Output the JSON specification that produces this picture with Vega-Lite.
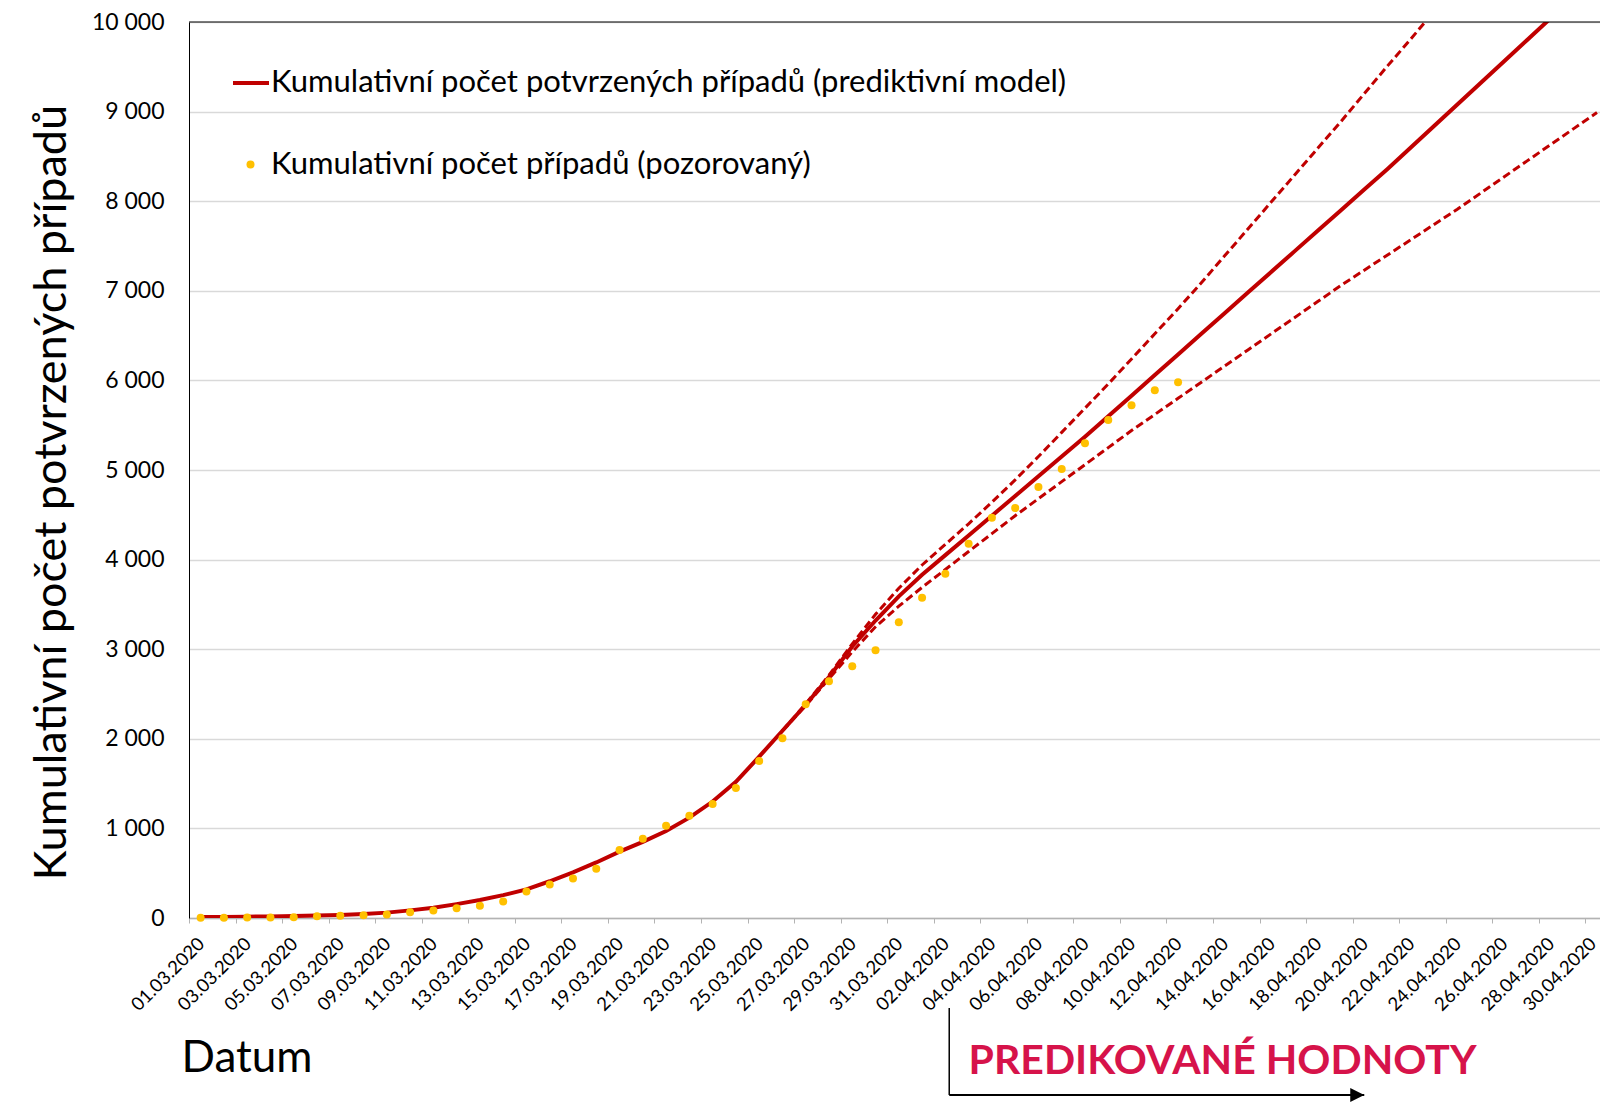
{
  "$schema": "https://vega.github.io/schema/vega-lite/v6.json",
  "width": 1411,
  "height": 896,
  "autosize": {"type": "none"},
  "padding": {"left": 189, "top": 22, "right": 0, "bottom": 184},
  "background": "white",
  "config": {"view": {"stroke": null}, "font": "Lato"},
  "datasets": {
    "main": [
      {"date": "2020-03-01", "model": 10, "observed": 3},
      {"date": "2020-03-02", "model": 12, "observed": 3},
      {"date": "2020-03-03", "model": 15, "observed": 5},
      {"date": "2020-03-04", "model": 18, "observed": 5},
      {"date": "2020-03-05", "model": 22, "observed": 8},
      {"date": "2020-03-06", "model": 27, "observed": 19},
      {"date": "2020-03-07", "model": 34, "observed": 26},
      {"date": "2020-03-08", "model": 45, "observed": 32},
      {"date": "2020-03-09", "model": 60, "observed": 38},
      {"date": "2020-03-10", "model": 85, "observed": 63},
      {"date": "2020-03-11", "model": 115, "observed": 85},
      {"date": "2020-03-12", "model": 155, "observed": 108},
      {"date": "2020-03-13", "model": 200, "observed": 137},
      {"date": "2020-03-14", "model": 255, "observed": 185},
      {"date": "2020-03-15", "model": 320, "observed": 297},
      {"date": "2020-03-16", "model": 410, "observed": 375},
      {"date": "2020-03-17", "model": 510, "observed": 440},
      {"date": "2020-03-18", "model": 620, "observed": 550},
      {"date": "2020-03-19", "model": 740, "observed": 760},
      {"date": "2020-03-20", "model": 850, "observed": 885},
      {"date": "2020-03-21", "model": 970, "observed": 1030},
      {"date": "2020-03-22", "model": 1120, "observed": 1142},
      {"date": "2020-03-23", "model": 1300, "observed": 1272},
      {"date": "2020-03-24", "model": 1520, "observed": 1451},
      {"date": "2020-03-25", "model": 1800, "observed": 1752},
      {"date": "2020-03-26", "model": 2090, "upper": 2090, "lower": 2090, "observed": 2005},
      {"date": "2020-03-27", "model": 2380, "upper": 2390, "lower": 2370, "observed": 2385},
      {"date": "2020-03-28", "model": 2690, "upper": 2710, "lower": 2670, "observed": 2642},
      {"date": "2020-03-29", "model": 3030, "upper": 3060, "lower": 2970, "observed": 2809},
      {"date": "2020-03-30", "model": 3320, "upper": 3390, "lower": 3250, "observed": 2988},
      {"date": "2020-03-31", "model": 3590, "upper": 3680, "lower": 3480, "observed": 3300},
      {"date": "2020-04-01", "model": 3830, "upper": 3940, "lower": 3690, "observed": 3575},
      {"date": "2020-04-02", "model": 4050, "upper": 4170, "lower": 3890, "observed": 3843},
      {"date": "2020-04-03", "model": 4270, "upper": 4400, "lower": 4090, "observed": 4177},
      {"date": "2020-04-04", "model": 4490, "upper": 4640, "lower": 4290, "observed": 4468},
      {"date": "2020-04-05", "model": 4710, "upper": 4890, "lower": 4490, "observed": 4576},
      {"date": "2020-04-06", "model": 4930, "upper": 5150, "lower": 4680, "observed": 4810},
      {"date": "2020-04-07", "model": 5150, "upper": 5420, "lower": 4870, "observed": 5011},
      {"date": "2020-04-08", "model": 5370, "upper": 5690, "lower": 5060, "observed": 5298},
      {"date": "2020-04-09", "model": 5600, "upper": 5960, "lower": 5250, "observed": 5558},
      {"date": "2020-04-10", "model": 5830, "upper": 6240, "lower": 5440, "observed": 5722},
      {"date": "2020-04-11", "model": 6060, "upper": 6520, "lower": 5620, "observed": 5890},
      {"date": "2020-04-12", "model": 6290, "upper": 6800, "lower": 5800, "observed": 5979},
      {"date": "2020-04-13", "model": 6520, "upper": 7090, "lower": 5980},
      {"date": "2020-04-14", "model": 6750, "upper": 7390, "lower": 6160},
      {"date": "2020-04-15", "model": 6980, "upper": 7690, "lower": 6340},
      {"date": "2020-04-16", "model": 7210, "upper": 7990, "lower": 6520},
      {"date": "2020-04-17", "model": 7440, "upper": 8290, "lower": 6700},
      {"date": "2020-04-18", "model": 7670, "upper": 8590, "lower": 6880},
      {"date": "2020-04-19", "model": 7900, "upper": 8890, "lower": 7060},
      {"date": "2020-04-20", "model": 8130, "upper": 9200, "lower": 7230},
      {"date": "2020-04-21", "model": 8360, "upper": 9510, "lower": 7400},
      {"date": "2020-04-22", "model": 8600, "upper": 9810, "lower": 7570},
      {"date": "2020-04-23", "model": 8840, "upper": 10120, "lower": 7740},
      {"date": "2020-04-24", "model": 9080, "upper": 10440, "lower": 7910},
      {"date": "2020-04-25", "model": 9320, "upper": 10770, "lower": 8090},
      {"date": "2020-04-26", "model": 9560, "upper": 11100, "lower": 8270},
      {"date": "2020-04-27", "model": 9800, "upper": 11440, "lower": 8450},
      {"date": "2020-04-28", "model": 10040, "upper": 11790, "lower": 8630},
      {"date": "2020-04-29", "model": 10270, "upper": 12140, "lower": 8810},
      {"date": "2020-04-30", "model": 10500, "upper": 12500, "lower": 8990}
    ]
  },
  "encoding": {
    "x": {
      "field": "date", "type": "temporal",
      "scale": {"type": "utc", "domain": [{"year": 2020, "month": 2, "date": 29, "hours": 12, "utc": true}, {"year": 2020, "month": 4, "date": 30, "hours": 3, "minutes": 7, "utc": true}]},
      "axis": {
        "title": "Datum", "titleFontSize": 44, "titleFontWeight": "normal", "titleColor": "black",
        "titleAnchor": "start", "titleAlign": "left", "titleBaseline": "middle", "titleX": -8, "titleY": 140,
        "values": [
          {"year": 2020, "month": 3, "date": 1, "utc": true}, {"year": 2020, "month": 3, "date": 3, "utc": true},
          {"year": 2020, "month": 3, "date": 5, "utc": true}, {"year": 2020, "month": 3, "date": 7, "utc": true},
          {"year": 2020, "month": 3, "date": 9, "utc": true}, {"year": 2020, "month": 3, "date": 11, "utc": true},
          {"year": 2020, "month": 3, "date": 13, "utc": true}, {"year": 2020, "month": 3, "date": 15, "utc": true},
          {"year": 2020, "month": 3, "date": 17, "utc": true}, {"year": 2020, "month": 3, "date": 19, "utc": true},
          {"year": 2020, "month": 3, "date": 21, "utc": true}, {"year": 2020, "month": 3, "date": 23, "utc": true},
          {"year": 2020, "month": 3, "date": 25, "utc": true}, {"year": 2020, "month": 3, "date": 27, "utc": true},
          {"year": 2020, "month": 3, "date": 29, "utc": true}, {"year": 2020, "month": 3, "date": 31, "utc": true},
          {"year": 2020, "month": 4, "date": 2, "utc": true}, {"year": 2020, "month": 4, "date": 4, "utc": true},
          {"year": 2020, "month": 4, "date": 6, "utc": true}, {"year": 2020, "month": 4, "date": 8, "utc": true},
          {"year": 2020, "month": 4, "date": 10, "utc": true}, {"year": 2020, "month": 4, "date": 12, "utc": true},
          {"year": 2020, "month": 4, "date": 14, "utc": true}, {"year": 2020, "month": 4, "date": 16, "utc": true},
          {"year": 2020, "month": 4, "date": 18, "utc": true}, {"year": 2020, "month": 4, "date": 20, "utc": true},
          {"year": 2020, "month": 4, "date": 22, "utc": true}, {"year": 2020, "month": 4, "date": 24, "utc": true},
          {"year": 2020, "month": 4, "date": 26, "utc": true}, {"year": 2020, "month": 4, "date": 28, "utc": true},
          {"year": 2020, "month": 4, "date": 30, "utc": true}
        ],
        "labelExpr": "utcFormat(datum.value, '%d.%m.%Y')",
        "labelAngle": -45, "labelFontSize": 18.5, "labelColor": "black", "labelPadding": 11,
        "labelOverlap": false, "labelFlush": false, "labelBound": false,
        "domainColor": "#b3b3b3", "domainWidth": 1.5, "tickColor": "#b3b3b3", "tickSize": 5, "tickWidth": 1,
        "tickOffset": -11.64,
        "labelOffset": {"condition": {"test": "datum.value >= utc(2020, 3, 29)", "value": 1.0}, "value": 5.6},
        "grid": false
      }
    }
  },
  "layer": [
    {
      "data": {"name": "main"},
      "mark": {"type": "line", "color": "#c00000", "strokeWidth": 3, "strokeDash": [8, 4], "clip": true},
      "encoding": {
        "y": {
          "field": "upper", "type": "quantitative", "title": "Kumulativní počet potvrzených případů",
          "scale": {"domain": [0, 10000], "nice": false, "zero": false},
          "axis": {
            "titleFontSize": 45, "titleFontWeight": "normal", "titleColor": "black",
            "titleX": -138, "titleY": 470, "titleAlign": "center", "titleBaseline": "middle", "titleAngle": -90,
            "values": [0, 1000, 2000, 3000, 4000, 5000, 6000, 7000, 8000, 9000, 10000],
            "labelExpr": "replace(format(datum.value, ','), ',', ' ')",
            "labelFontSize": 23, "labelColor": "black", "labelPadding": 25, "ticks": false,
            "labelFlush": false, "labelOverlap": false,
            "domainColor": "black", "domainWidth": 1, "grid": true, "gridColor": "#d9d9d9", "gridWidth": 1.3
          }
        }
      }
    },
    {
      "data": {"name": "main"},
      "mark": {"type": "line", "color": "#c00000", "strokeWidth": 3, "strokeDash": [8, 4], "clip": true},
      "encoding": {
        "y": {"field": "lower", "type": "quantitative", "title": "Kumulativní počet potvrzených případů"}
      }
    },
    {
      "data": {"name": "main"},
      "mark": {"type": "line", "strokeWidth": 4, "clip": true},
      "encoding": {
        "y": {"field": "model", "type": "quantitative", "title": "Kumulativní počet potvrzených případů"},
        "color": {
          "datum": "Kumulativní počet potvrzených případů (prediktivní model)", "type": "nominal",
          "scale": {"range": ["#c00000"]},
          "legend": {
            "orient": "none", "legendX": 42, "legendY": 41, "title": null, "padding": 0,
            "symbolType": "stroke", "symbolSize": 1296, "symbolStrokeWidth": 4,
            "labelFontSize": 31, "labelColor": "black", "labelLimit": 0, "labelOffset": 0
          }
        }
      }
    },
    {
      "data": {"name": "main"},
      "mark": {"type": "point", "filled": true, "size": 64, "opacity": 1, "strokeWidth": 0},
      "encoding": {
        "y": {"field": "observed", "type": "quantitative", "title": "Kumulativní počet potvrzených případů"},
        "fill": {
          "datum": "Kumulativní počet případů (pozorovaný)", "type": "nominal",
          "scale": {"range": ["#ffc000"]},
          "legend": {
            "orient": "none", "legendX": 46, "legendY": 127, "title": null, "padding": 0,
            "symbolType": "circle", "symbolSize": 64, "symbolStrokeWidth": 0,
            "labelFontSize": 31, "labelColor": "black", "labelLimit": 0, "labelOffset": 5
          }
        }
      }
    },
    {
      "data": {"values": [{"top": 10000}]},
      "mark": {"type": "rule", "color": "black", "strokeWidth": 1},
      "encoding": {
        "x": {"value": 0}, "x2": {"value": 1411},
        "y": {"field": "top", "type": "quantitative", "title": "Kumulativní počet potvrzených případů"}
      }
    },
    {
      "data": {"values": [{"date": "2020-04-02T04:00:00Z", "y": -1004, "y2": -1975}]},
      "mark": {"type": "rule", "color": "black", "strokeWidth": 1.5},
      "encoding": {
        "y": {"field": "y", "type": "quantitative", "title": "Kumulativní počet potvrzených případů"},
        "y2": {"field": "y2"}
      }
    },
    {
      "data": {"values": [{"date": "2020-04-02T04:00:00Z", "date2": "2020-04-20", "y": -1975}]},
      "mark": {"type": "rule", "color": "black", "strokeWidth": 2},
      "encoding": {
        "x2": {"field": "date2"},
        "y": {"field": "y", "type": "quantitative", "title": "Kumulativní počet potvrzených případů"}
      }
    },
    {
      "data": {"values": [{"date": "2020-04-20", "y": -1975}]},
      "mark": {"type": "point", "shape": "M-1,-0.5L0,0L-1,0.5Z", "size": 784, "filled": true, "color": "black", "opacity": 1, "strokeWidth": 0},
      "encoding": {
        "y": {"field": "y", "type": "quantitative", "title": "Kumulativní počet potvrzených případů"}
      }
    },
    {
      "data": {"values": [{"date": "2020-04-03", "y": -1610, "label": "PREDIKOVANÉ HODNOTY"}]},
      "mark": {"type": "text", "font": "Lato", "fontSize": 41, "fontWeight": "bold", "color": "#d6134a", "align": "left", "baseline": "middle"},
      "encoding": {
        "y": {"field": "y", "type": "quantitative", "title": "Kumulativní počet potvrzených případů"},
        "text": {"field": "label"}
      }
    }
  ]
}
